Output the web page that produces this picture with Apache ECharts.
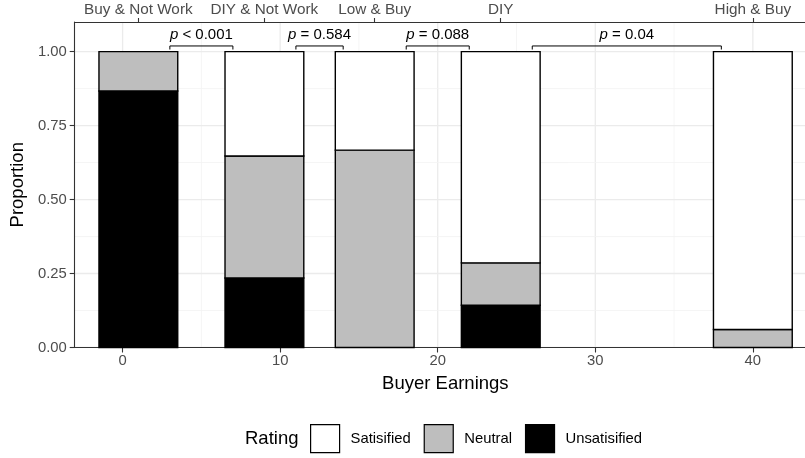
<!DOCTYPE html>
<html>
<head>
<meta charset="utf-8">
<script src="https://cdn.jsdelivr.net/npm/echarts@6/dist/echarts.min.js"></script>
<style>
  html, body { margin: 0; padding: 0; background: #fff; }
  #chart { width: 805px; height: 458px; }
</style>
</head>
<body>
<div id="chart"></div>
<script>
// ---- data ----
const categories = ['Buy & Not Work', 'DIY & Not Work', 'Low & Buy', 'DIY', 'High & Buy'];
const earnings = [1, 9, 16, 24, 40];
const unsatisfied = [0.867, 0.235, 0, 0.143, 0];
const neutral = [0.133, 0.412, 0.667, 0.143, 0.061];
const satisfied = [0, 0.353, 0.333, 0.714, 0.939];
const ratingNames = ['Satisified', 'Neutral', 'Unsatisified'];
// comparisons: [index a, index b, p text]
const comparisons = [[0, 1, '< 0.001'], [1, 2, '= 0.584'], [2, 3, '= 0.088'], [3, 4, '= 0.04']];
const xTicks = [0, 10, 20, 30, 40];
const xMinor = [5, 15, 25, 35];
const yTicks = [0, 0.25, 0.5, 0.75, 1];
const yMinor = [0.125, 0.375, 0.625, 0.875];

// ---- style constants ----
const FONT = '"Liberation Sans", Arial, sans-serif';
const BAR_W = 5;
const X_MIN = -3.04, X_MAX = 43.31;
const Y_MIN = 0, Y_MAX = 1.1;
const colors = { 'Satisified': '#FFFFFF', 'Neutral': '#BEBEBE', 'Unsatisified': '#000000' };

// stacked bar segments: [x, base, top]
function segs(vals, bases) {
  return earnings.map((x, i) => [x, bases[i], bases[i] + vals[i]]);
}
const base0 = earnings.map(() => 0);
const base1 = unsatisfied.slice();
const base2 = unsatisfied.map((u, i) => u + neutral[i]);
const unsatData = segs(unsatisfied, base0);
const neutralData = segs(neutral, base1);
const satData = segs(satisfied, base2);

function barRender(color) {
  return function (params, api) {
    const x = api.value(0), y0 = api.value(1), y1 = api.value(2);
    if (y1 - y0 <= 0) return null;
    const p0 = api.coord([x - BAR_W / 2, y1]);
    const p1 = api.coord([x + BAR_W / 2, y0]);
    return {
      type: 'rect',
      shape: { x: p0[0], y: p0[1], width: p1[0] - p0[0], height: p1[1] - p0[1] },
      style: { fill: color, stroke: '#000', lineWidth: 1.4 }
    };
  };
}

// grid lines: [value, orientation(0 = vertical, 1 = horizontal), major(1)/minor(0)]
const gridData = []
  .concat(xTicks.map(v => [v, 0, 1]))
  .concat(xMinor.map(v => [v, 0, 0]))
  .concat(yTicks.map(v => [v, 1, 1]))
  .concat(yMinor.map(v => [v, 1, 0]));

function gridRender(params, api) {
  const cs = params.coordSys;
  const v = api.value(0), ori = api.value(1), major = api.value(2);
  let shape;
  if (ori === 0) {
    const p = api.coord([v, Y_MIN]);
    shape = { x1: p[0], y1: cs.y, x2: p[0], y2: cs.y + cs.height };
  } else {
    const p = api.coord([X_MIN, v]);
    shape = { x1: cs.x, y1: p[1], x2: cs.x + cs.width, y2: p[1] };
  }
  return {
    type: 'line', shape: shape,
    style: { stroke: major ? '#EBEBEB' : '#F3F3F3', lineWidth: major ? 1.3 : 0.8 }
  };
}

// brackets: [x1, x2, idx]
const bracketData = comparisons.map((c, i) => [earnings[c[0]] + 2, earnings[c[1]] - 2, i]);
function bracketRender(params, api) {
  const x1 = api.value(0), x2 = api.value(1), i = api.value(2);
  const a = api.coord([x1, 1.019]);
  const b = api.coord([x2, 1.019]);
  const legY = api.coord([x1, 1.007])[1];
  const t = api.coord([(x1 + x2) / 2, 1.057]);
  return {
    type: 'group',
    children: [
      { type: 'polyline', shape: { points: [[a[0], legY], [a[0], a[1]], [b[0], b[1]], [b[0], legY]] },
        style: { stroke: '#000', lineWidth: 1, fill: null } },
      { type: 'text', x: t[0], y: t[1],
        style: {
          text: '{i|p} {n|' + comparisons[i][2] + '}',
          align: 'center', verticalAlign: 'middle',
          rich: {
            i: { fontStyle: 'italic', fontSize: 15, fontFamily: FONT, fill: '#000' },
            n: { fontSize: 15, fontFamily: FONT, fill: '#000' }
          },
          fontSize: 15, fontFamily: FONT, fill: '#000'
        } }
    ]
  };
}

const axisLineStyle = { color: '#333333', width: 1.1 };
const tickLabelStyle = { color: '#4D4D4D', fontSize: 14.8, fontFamily: FONT };

const chart = echarts.init(document.getElementById('chart'), null, { renderer: 'canvas' });
chart.setOption({
  animation: false,
  backgroundColor: '#fff',
  textStyle: { fontFamily: FONT },
  grid: { left: 74, right: 0, top: 22, bottom: 110.5, containLabel: false },
  xAxis: [
    {
      type: 'value', min: X_MIN, max: X_MAX, position: 'bottom',
      axisLine: { show: true, onZero: false, lineStyle: axisLineStyle },
      axisTick: { show: true, length: 5, lineStyle: axisLineStyle, customValues: xTicks },
      axisLabel: Object.assign({ margin: 6, customValues: xTicks, formatter: v => String(v) }, tickLabelStyle),
      splitLine: { show: false },
      name: 'Buyer Earnings', nameLocation: 'middle', nameGap: 27,
      nameTextStyle: { color: '#000', fontSize: 18.5, fontFamily: FONT, padding: [0, 0, 0, 11] }
    },
    {
      type: 'value', min: X_MIN, max: X_MAX, position: 'top',
      axisLine: { show: true, onZero: false, lineStyle: axisLineStyle },
      axisTick: { show: true, length: 4, lineStyle: axisLineStyle, customValues: earnings },
      axisLabel: Object.assign({ margin: 5, customValues: earnings,
        formatter: v => categories[earnings.indexOf(v)] || '' }, tickLabelStyle, { fontSize: 15.3 }),
      splitLine: { show: false }
    }
  ],
  yAxis: {
    type: 'value', min: Y_MIN, max: Y_MAX,
    axisLine: { show: true, onZero: false, lineStyle: axisLineStyle },
    axisTick: { show: true, length: 5, lineStyle: axisLineStyle, customValues: yTicks },
    axisLabel: Object.assign({ margin: 8, customValues: yTicks, formatter: v => v.toFixed(2) }, tickLabelStyle),
    splitLine: { show: false },
    name: 'Proportion', nameLocation: 'middle', nameGap: 42, nameRotate: 90,
    nameTextStyle: { color: '#000', fontSize: 18.5, fontFamily: FONT }
  },
  legend: {
    data: ratingNames.map(n => ({ name: n, icon: 'rect',
      itemStyle: { color: colors[n], borderColor: '#000', borderWidth: 1.2 } })),
    left: 310, top: 424, padding: 0, itemWidth: 29, itemHeight: 28, itemGap: 13,
    textStyle: { color: '#000', fontSize: 14.8, fontFamily: FONT, padding: [0, 0, 0, 6] },
    selectedMode: false
  },
  graphic: [
    { type: 'text', left: 245, top: 429,
      style: { text: 'Rating', fontSize: 18.5, fontFamily: FONT, fill: '#000' } }
  ],
  series: [
    { type: 'custom', name: 'gridlines', silent: true, z: 0, renderItem: gridRender, data: gridData, clip: true },
    { type: 'custom', name: 'Unsatisified', z: 2, renderItem: barRender(colors['Unsatisified']), data: unsatData,
      itemStyle: { color: colors['Unsatisified'], borderColor: '#000', borderWidth: 1.2 } },
    { type: 'custom', name: 'Neutral', z: 2, renderItem: barRender(colors['Neutral']), data: neutralData,
      itemStyle: { color: colors['Neutral'], borderColor: '#000', borderWidth: 1.2 } },
    { type: 'custom', name: 'Satisified', z: 2, renderItem: barRender(colors['Satisified']), data: satData,
      itemStyle: { color: colors['Satisified'], borderColor: '#000', borderWidth: 1.2 } },
    { type: 'custom', name: 'brackets', silent: true, z: 3, renderItem: bracketRender, data: bracketData, clip: false }
  ]
});
</script>
</body>
</html>
